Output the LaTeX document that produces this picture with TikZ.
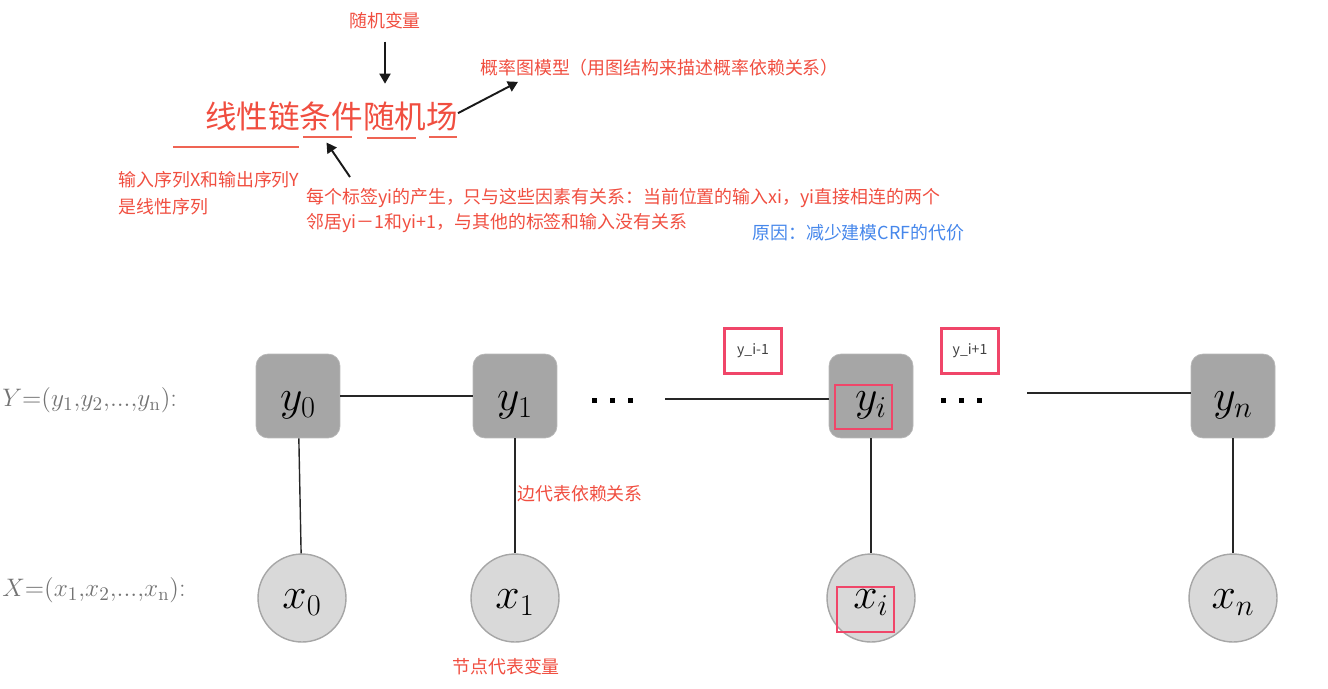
\documentclass[tikz,border=0pt]{standalone}
\usepackage{fontspec}
\newfontfamily\cjk{Noto Sans CJK SC}
\usepackage{xcolor}
\usepackage{tikz}
\usetikzlibrary{arrows.meta, positioning, calc}
\definecolor{annored}{RGB}{240,78,64}
\definecolor{ulred}{RGB}{239,100,84}
\definecolor{hlred}{RGB}{240,70,105}
\definecolor{noteblue}{RGB}{70,135,235}
\definecolor{ygray}{RGB}{166,166,166}
\definecolor{xgray}{RGB}{217,217,217}

\begin{document}
\begin{tikzpicture}[
  x=0.02cm, y=-0.02cm,
  ynode/.style={rectangle, rounded corners=0.24cm, fill=ygray, draw=ygray!80!white, minimum width=1.68cm, minimum height=1.68cm, inner sep=0pt, text height=17pt, text depth=0pt, font=\fontsize{25}{30}\selectfont},
  xnode/.style={circle, fill=xgray, draw=black!35, line width=0.8pt, minimum size=1.76cm, inner sep=0pt, text height=12pt, text depth=0pt, font=\fontsize{25}{30}\selectfont},
  link/.style={line width=0.8pt, draw=black!85},
  arrow/.style={-{Triangle[length=2mm, width=2.2mm]}, line width=1.1pt, black!90},
  note/.style={font=\cjk\fontsize{10.2}{14.2}\selectfont, text=annored, inner sep=0pt, align=left},
  headline/.style={font=\cjk\fontsize{18}{22}\selectfont, text=annored, inner sep=0pt, outer sep=0pt},
  uline/.style={draw=ulred, line width=1.7pt},
  hlbox/.style={draw=hlred, line width=1.2pt},
  nbrtag/.style={hlbox, minimum width=1.14cm, minimum height=0.9cm, font=\cjk\fontsize{8}{10}\selectfont, text=black!75},
  ellip/.style={inner sep=0pt},
  seqlabel/.style={anchor=west, inner sep=0pt, text=black!55, font=\fontsize{15}{18}\selectfont},
  node distance=2.3cm
]
\useasboundingbox (0,0) rectangle (1328,689);

% title, split so the parts can be pointed at
\node[headline, anchor=base west] (xxl) at (205,129) {线性链};
\node[headline, base right=0pt of xxl] (tj) {条件};
\node[headline, base right=0pt of tj] (sj) {随机};
\node[headline, base right=0pt of sj] (chang) {场};
\draw[uline] (173,147) -- (299,147);
\draw[uline] (303,137) -- (352,137);
\draw[uline] (367,138) -- (416,138);
\draw[uline] (429,137) -- (457,137);

% notes around the title
\node[note] (rv) at (385,21) {随机变量};
\node[note, anchor=west] (gl) at (480,68) {概率图模型（用图结构来描述概率依赖关系）};
\node[note, anchor=north west, font=\cjk\fontsize{10.2}{15.3}\selectfont] (seq) at (118,171) {输入序列X和输出序列Y\\是线性序列};
\node[note, anchor=north west] (dep) at (306,188) {每个标签yi的产生，只与这些因素有关系：当前位置的输入xi，yi直接相连的两个\\邻居yi－1和yi+1，与其他的标签和输入没有关系};
\node[note, anchor=west, text=noteblue] (why) at (752,233) {原因：减少建模CRF的代价};

\draw[arrow] ([shift={(0,12)}]rv.south) -- ([shift={(0,54)}]rv.south);
\draw[arrow] ([shift={(0,-4)}]chang.east) -- ([shift={(38,5)}]gl.south west);
\draw[arrow] ([shift={(44,-11)}]dep.north west) -- ([shift={(-5,11)}]tj.south);

% chain
\node[seqlabel] (ylab) at (2,400) {$Y{=}(y_1{,}y_2{,}{\ldotp}{\ldotp}{\ldotp}{,}y_{\mathrm{n}})$:};
\node[seqlabel] (xlab) at (2,590) {$X{=}(x_1{,}x_2{,}{\ldotp}{\ldotp}{\ldotp}{,}x_{\mathrm{n}})$:};

\node[ynode] (y0) at (298,396) {$y_0$};
\node[ynode] (y1) at (515,396) {$y_1$};
\node[ynode] (yi) at (871,396) {$y_i$};
\node[ynode] (yn) at (1233,396) {$y_n$};
\node[xnode, below=of y0, xshift=0.08cm] (x0) {$x_0$};
\node[xnode, below=of y1] (x1) {$x_1$};
\node[xnode, below=of yi] (xi) {$x_i$};
\node[xnode, below=of yn] (xn) {$x_n$};

\node[ellip] (d1) at (612,400) {\rule{0.1cm}{0.1cm}\hspace{0.26cm}\rule{0.1cm}{0.1cm}\hspace{0.26cm}\rule{0.1cm}{0.1cm}};
\node[ellip] (d2) at (961,400) {\rule{0.1cm}{0.1cm}\hspace{0.26cm}\rule{0.1cm}{0.1cm}\hspace{0.26cm}\rule{0.1cm}{0.1cm}};
\coordinate (l1) at (665,399);
\coordinate (l2) at (1027,393);

\draw[link] (y0) -- (y1);
\draw[link] (l1) -- (l1 -| yi.west);
\draw[link] (l2) -- (l2 -| yn.west);
\foreach \n in {0,1,i,n}
  \draw[link] (y\n) -- (x\n);

% neighbours of y_i
\node[nbrtag] (prev) at (753,351) {y\_i-1};
\node[nbrtag] (next) at (970,351) {y\_i+1};
\draw[hlbox] ([shift={(-36,-11)}]yi.center) rectangle ([shift={(21,33)}]yi.center);
\draw[hlbox] ([shift={(-34,-11)}]xi.center) rectangle ([shift={(23,34)}]xi.center);

\node[note, anchor=west] (edgenote) at (517,494) {边代表依赖关系};
\node[note, anchor=west] (nodenote) at (452,667) {节点代表变量};
\end{tikzpicture}
\end{document}
